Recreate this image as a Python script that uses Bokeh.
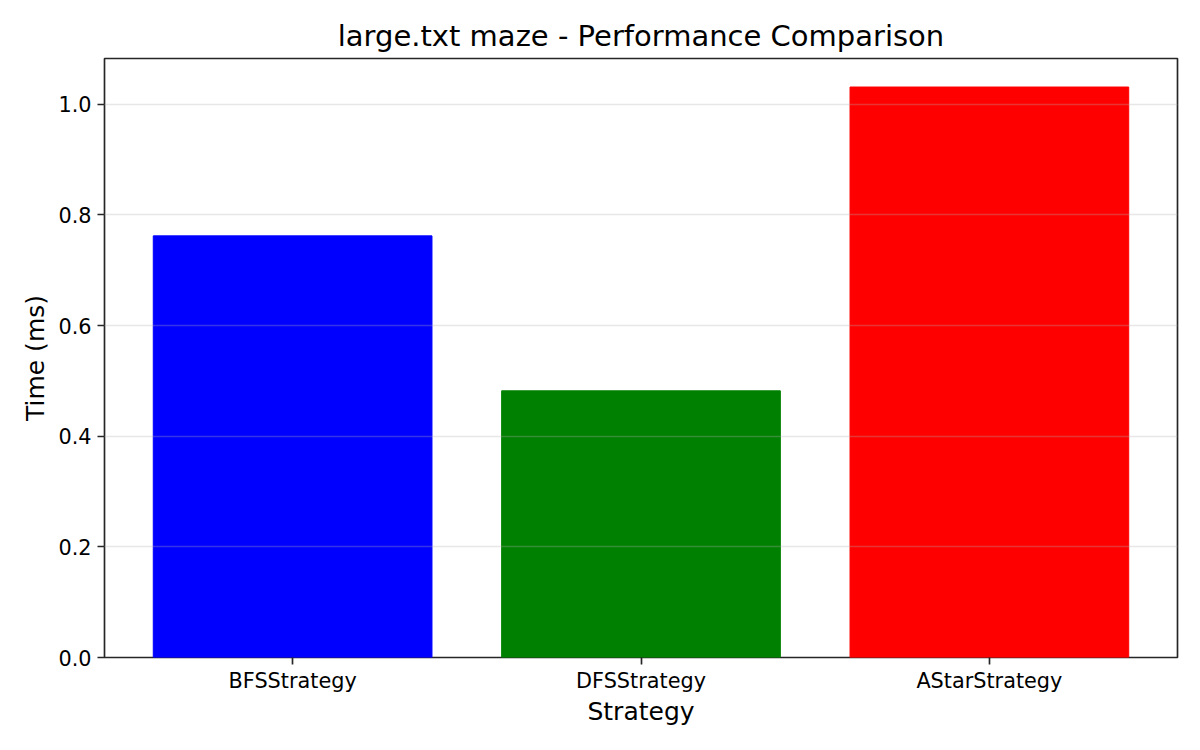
from bokeh.plotting import figure
from bokeh.models import Range1d, FixedTicker, PrintfTickFormatter, ColumnDataSource
from bokeh.embed import file_html
from bokeh.resources import INLINE

strategies = ["BFSStrategy", "DFSStrategy", "AStarStrategy"]
times_ms = [0.762, 0.482, 1.031]
bar_colors = ["#0000ff", "#008000", "#ff0000"]
y_ticks = [0.0, 0.2, 0.4, 0.6, 0.8, 1.0]

xs = list(range(len(strategies)))
src = ColumnDataSource(dict(x=xs, top=times_ms, color=bar_colors))

FONT = "DejaVu Sans"

p = figure(width=1184, height=734, output_backend="svg", toolbar_location=None,
           x_range=Range1d(-0.54, len(strategies) - 1 + 0.54),
           y_range=Range1d(0, max(times_ms) * 1.05),
           min_border_left=104, min_border_right=7, min_border_top=58, min_border_bottom=77)
p.frame_width = 1073
p.frame_height = 599

p.vbar(x="x", top="top", width=0.8, color="color", source=src)

p.title.text = "large.txt maze - Performance Comparison"
p.title.align = "center"
p.title.text_font = FONT
p.title.text_font_size = "29px"
p.title.text_font_style = "normal"
p.title.text_color = "black"
p.title.standoff = 12

p.xaxis.ticker = FixedTicker(ticks=xs)
p.xaxis.major_label_overrides = {i: s for i, s in enumerate(strategies)}
p.yaxis.ticker = FixedTicker(ticks=y_ticks)
p.yaxis.formatter = PrintfTickFormatter(format="%.1f")

p.xaxis.axis_label = "Strategy"
p.yaxis.axis_label = "Time (ms)"

for ax in (p.xaxis, p.yaxis):
    ax.axis_label_text_font = FONT
    ax.axis_label_text_font_size = "25px"
    ax.axis_label_text_font_style = "normal"
    ax.axis_label_text_color = "black"
    ax.major_label_text_font = FONT
    ax.major_label_text_font_size = "20.8px"
    ax.major_label_text_color = "black"
    ax.major_tick_in = 0
    ax.major_tick_out = 7
    ax.major_tick_line_width = 1.67
    ax.major_tick_line_color = "#262626"
    ax.minor_tick_line_color = None
    ax.axis_line_color = None

p.xaxis.major_label_standoff = 4
p.xaxis.axis_label_standoff = 1
p.yaxis.major_label_standoff = 6
p.yaxis.axis_label_standoff = 5

p.outline_line_color = "#262626"
p.outline_line_width = 1.67
p.outline_line_alpha = 1.0

p.xgrid.grid_line_color = None
p.ygrid.grid_line_color = "#b0b0b0"
p.ygrid.grid_line_alpha = 0.3
p.ygrid.grid_line_width = 1.67
p.ygrid.level = "overlay"

p.background_fill_color = "white"
p.border_fill_color = "white"

open("out.html", "w").write(file_html(p, INLINE))
